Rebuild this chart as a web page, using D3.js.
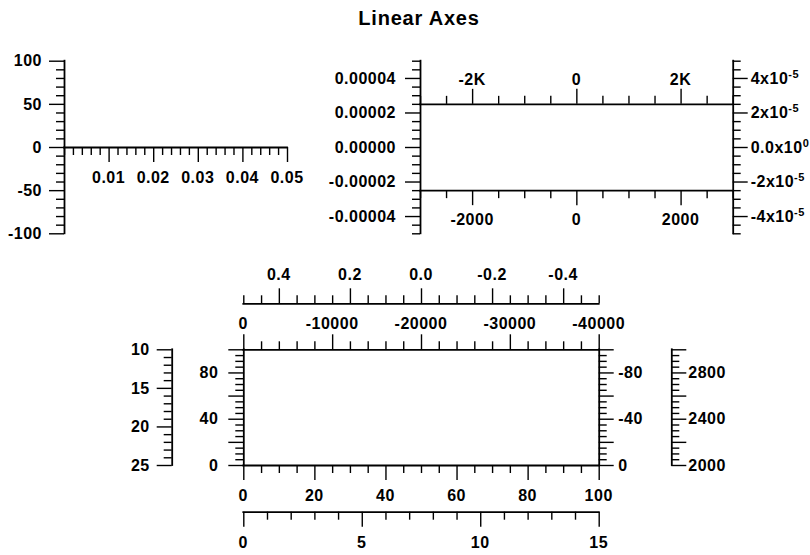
<!DOCTYPE html>
<html><head><meta charset="utf-8">
<script src="https://cdn.jsdelivr.net/npm/d3@7"></script>
<style>
body{margin:0;background:#fff}
svg{display:block}
text.lbl{font-family:"Liberation Sans",Arial,sans-serif;font-weight:bold;font-size:16px;letter-spacing:0.5px;fill:#000}
text.title{font-family:"Liberation Sans",Arial,sans-serif;font-weight:bold;font-size:20px;letter-spacing:0.8px;fill:#000}
</style></head><body>
<svg id="c" width="810" height="555"></svg>
<script>
const chartTitle = "Linear Axes";

// Panel 1 (top-left)
const p1XDomain = [0, 0.05];
const p1XMajors = [0.01, 0.02, 0.03, 0.04, 0.05];
const p1XLabels = ["0.01", "0.02", "0.03", "0.04", "0.05"];
const p1YDomain = [-100, 100];
const p1YMajors = [100, 50, 0, -50, -100];
const p1YLabels = ["100", "50", "0", "-50", "-100"];

// Panel 2 (top-right)
const p2XDomain = [-3000, 3000];
const p2XMajors = [-2000, 0, 2000];
const p2XTopLabels = ["-2K", "0", "2K"];
const p2XBottomLabels = ["-2000", "0", "2000"];
const p2YDomain = [-0.00005, 0.00005];
const p2YMajors = [0.00004, 0.00002, 0, -0.00002, -0.00004];
const p2YLeftLabels = ["0.00004", "0.00002", "0.00000", "-0.00002", "-0.00004"];
const p2YRightMant = ["4x10", "2x10", "0.0x10", "-2x10", "-4x10"];
const p2YRightExp = ["-5", "-5", "0", "-5", "-5"];
const p2AxisLevels = [0.000025, -0.000025];

// Panel 3 (bottom)
const p3BottomDomain = [0, 100];
const p3BottomMajors = [0, 20, 40, 60, 80, 100];
const p3BottomLabels = ["0", "20", "40", "60", "80", "100"];
const p3TopDomain = [0, -40000];
const p3TopMajors = [0, -10000, -20000, -30000, -40000];
const p3TopLabels = ["0", "-10000", "-20000", "-30000", "-40000"];
const p3Top2Domain = [0.5, -0.5];
const p3Top2Majors = [0.4, 0.2, 0.0, -0.2, -0.4];
const p3Top2Labels = ["0.4", "0.2", "0.0", "-0.2", "-0.4"];
const p3Bottom2Domain = [0, 15];
const p3Bottom2Majors = [0, 5, 10, 15];
const p3Bottom2Labels = ["0", "5", "10", "15"];
const p3LeftDomain = [0, 100];
const p3LeftMajors = [0, 20, 40, 60, 80, 100];
const p3LeftLabelVals = [0, 40, 80];
const p3LeftLabels = ["0", "40", "80"];
const p3RightDomain = [0, -100];
const p3RightMajors = [0, -20, -40, -60, -80, -100];
const p3RightLabelVals = [0, -40, -80];
const p3RightLabels = ["0", "-40", "-80"];
const p3FarLeftDomain = [10, 25];
const p3FarLeftMajors = [10, 15, 20, 25];
const p3FarLeftLabels = ["10", "15", "20", "25"];
const p3FarRightDomain = [2000, 3000];
const p3FarRightMajors = [2000, 2200, 2400, 2600, 2800, 3000];
const p3FarRightLabelVals = [2000, 2400, 2800];
const p3FarRightLabels = ["2000", "2400", "2800"];

const svg = d3.select("#c");

svg.append("text").attr("class","title").attr("x",419).attr("y",25)
  .attr("text-anchor","middle").text(chartTitle);

function drawAxis(o){
  const isH = o.orient==="top"||o.orient==="bottom";
  const g = svg.append("g").attr("transform", isH ? `translate(0,${o.at})` : `translate(${o.at},0)`);
  const mk = {top:d3.axisTop,bottom:d3.axisBottom,left:d3.axisLeft,right:d3.axisRight}[o.orient];
  const d = o.scale.domain();
  const tol = Math.abs(d[1]-d[0])*1e-6;
  const minors = o.scale.ticks(o.minorCount).filter(v=>!o.majors.some(m=>Math.abs(m-v)<tol));
  g.append("g").call(mk(o.scale).tickValues(minors).tickSize(o.minLen||8).tickSizeOuter(0).tickFormat(""));
  g.append("g").call(mk(o.scale).tickValues(o.majors).tickSize(o.majLen||15).tickSizeOuter(0).tickFormat(""));
  g.selectAll(".domain").remove();
  g.selectAll(".tick text").remove();
  g.selectAll(".tick line").attr("stroke","#000").attr("stroke-width",1.4);
  const r = o.scale.range();
  const dl = g.append("line").attr("stroke","#000").attr("stroke-width",1.8).attr("stroke-linecap","square");
  if(isH) dl.attr("x1",r[0]).attr("x2",r[1]).attr("y1",0.5).attr("y2",0.5);
  else dl.attr("y1",r[0]).attr("y2",r[1]).attr("x1",0.5).attr("x2",0.5);
  const lv = o.labelVals || o.majors;
  lv.forEach((v,i)=>{
    const p = o.scale(v);
    const t = g.append("text").attr("class","lbl");
    if(o.orient==="bottom") t.attr("x",p).attr("y",o.off).attr("dy","0.36em").attr("text-anchor","middle");
    if(o.orient==="top") t.attr("x",p).attr("y",-o.off).attr("dy","0.36em").attr("text-anchor","middle");
    if(o.orient==="left") t.attr("x",-o.off).attr("y",p).attr("dy","0.36em").attr("text-anchor","end");
    if(o.orient==="right") t.attr("x",o.off).attr("y",p).attr("dy","0.36em").attr("text-anchor","start");
    if(o.sup){
      t.append("tspan").text(o.labels[i]);
      t.append("tspan").attr("dy","-6").style("font-size","11px").text(o.sup[i]);
    } else t.text(o.labels[i]);
  });
}

// Panel 1
const p1x = d3.scaleLinear().domain(p1XDomain).range([64, 287]);
const p1y = d3.scaleLinear().domain(p1YDomain).range([233.3, 60.7]);
drawAxis({orient:"left", scale:p1y, at:p1x(0), majors:p1YMajors, labels:p1YLabels, minorCount:20, off:22});
drawAxis({orient:"bottom", scale:p1x, at:p1y(0), majors:p1XMajors, labels:p1XLabels, minorCount:25, off:30});

// Panel 2
const p2x = d3.scaleLinear().domain(p2XDomain).range([420, 732.7]);
const p2y = d3.scaleLinear().domain(p2YDomain).range([233.3, 60.7]);
drawAxis({orient:"left", scale:p2y, at:p2x(p2XDomain[0]), majors:p2YMajors, labels:p2YLeftLabels, minorCount:20, off:24});
drawAxis({orient:"right", scale:p2y, at:p2x(p2XDomain[1]), majors:p2YMajors, labels:p2YRightMant, sup:p2YRightExp, minorCount:20, off:18});
drawAxis({orient:"top", scale:p2x, at:p2y(p2AxisLevels[0]), majors:p2XMajors, labels:p2XTopLabels, minorCount:12, off:25});
drawAxis({orient:"bottom", scale:p2x, at:p2y(p2AxisLevels[1]), majors:p2XMajors, labels:p2XBottomLabels, minorCount:12, off:29});

// Panel 3
const X0 = 243.3, X1 = 598.7, Y0 = 465, Y1 = 349.3;
const p3b = d3.scaleLinear().domain(p3BottomDomain).range([X0, X1]);
const p3t = d3.scaleLinear().domain(p3TopDomain).range([X0, X1]);
const p3t2 = d3.scaleLinear().domain(p3Top2Domain).range([X0, X1]);
const p3b2 = d3.scaleLinear().domain(p3Bottom2Domain).range([X0, X1]);
const p3l = d3.scaleLinear().domain(p3LeftDomain).range([Y0, Y1]);
const p3r = d3.scaleLinear().domain(p3RightDomain).range([Y0, Y1]);
const p3fl = d3.scaleLinear().domain(p3FarLeftDomain).range([Y1, Y0]);
const p3fr = d3.scaleLinear().domain(p3FarRightDomain).range([Y0, Y1]);

drawAxis({orient:"left", scale:p3l, at:X0, majors:p3LeftMajors, labelVals:p3LeftLabelVals, labels:p3LeftLabels, minorCount:20, off:25});
drawAxis({orient:"right", scale:p3r, at:X1, majors:p3RightMajors, labelVals:p3RightLabelVals, labels:p3RightLabels, minorCount:20, off:19.5});
drawAxis({orient:"bottom", scale:p3b, at:Y0, majors:p3BottomMajors, labels:p3BottomLabels, minorCount:20, off:30});
drawAxis({orient:"top", scale:p3t, at:Y1, majors:p3TopMajors, labels:p3TopLabels, minorCount:20, off:26});
drawAxis({orient:"top", scale:p3t2, at:303.3, majors:p3Top2Majors, labels:p3Top2Labels, minorCount:20, off:29});
drawAxis({orient:"bottom", scale:p3b2, at:511.7, majors:p3Bottom2Majors, labels:p3Bottom2Labels, minorCount:15, off:31});
drawAxis({orient:"left", scale:p3fl, at:171.7, majors:p3FarLeftMajors, labels:p3FarLeftLabels, minorCount:15, off:22});
drawAxis({orient:"right", scale:p3fr, at:671.3, majors:p3FarRightMajors, labelVals:p3FarRightLabelVals, labels:p3FarRightLabels, minorCount:20, off:17});
</script>
</body></html>
